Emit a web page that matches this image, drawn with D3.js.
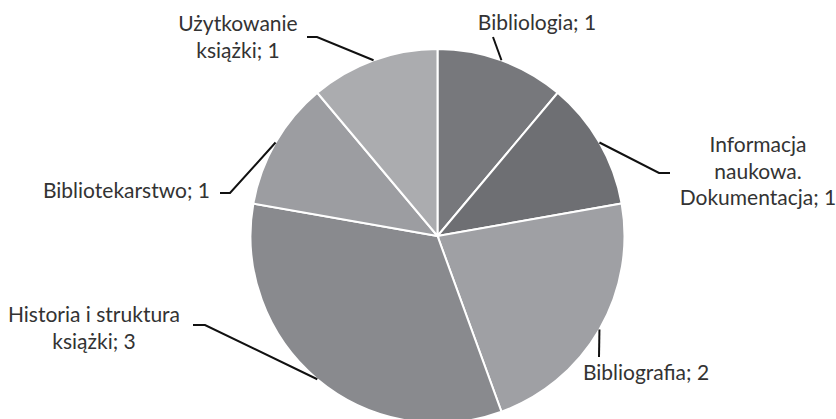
<!DOCTYPE html>
<html lang="pl">
<head>
    <meta charset="UTF-8">
    <title>Struktura tematyczna</title>
    <script src="https://d3js.org/d3.v7.min.js"></script>
    <style>
        body {
            margin: 0;
            background-color: #fff;
        }
        .label {
            font-family: Lato, "Open Sans", sans-serif;
            font-size: 21px;
            fill: #333;
        }
        .leader {
            fill: none;
            stroke: #111;
            stroke-width: 2px;
        }
    </style>
</head>
<body>
    <div id="chart"></div>

    <script>
        // data, clockwise from 12 o'clock
        const categories = [
            'Bibliologia',
            'Informacja naukowa. Dokumentacja',
            'Bibliografia',
            'Historia i struktura książki',
            'Bibliotekarstwo',
            'Użytkowanie książki'
        ];
        const values = [1, 1, 2, 3, 1, 1];
        const colors = ['#77787c', '#6e6f73', '#9fa0a4', '#898a8e', '#9c9da1', '#abacaf'];

        // how each label is broken into lines
        const labelLines = [
            ['Bibliologia; 1'],
            ['Informacja', 'naukowa.', 'Dokumentacja; 1'],
            ['Bibliografia; 2'],
            ['Historia i struktura', 'książki; 3'],
            ['Bibliotekarstwo; 1'],
            ['Użytkowanie', 'książki; 1']
        ];

        // label layout: text anchor point + leader elbow/end
        const labelLayout = [
            { x: 537, y: 30, anchor: 'middle', elbow: [493, 37], end: null },
            { x: 758, y: 152, anchor: 'middle', elbow: [659, 173], end: [670, 173] },
            { x: 646, y: 380, anchor: 'middle', elbow: [599, 357], end: null },
            { x: 94, y: 322, anchor: 'middle', elbow: [205, 325], end: [193, 325] },
            { x: 210, y: 198, anchor: 'end', elbow: [230, 193], end: [220, 193] },
            { x: 238, y: 31, anchor: 'middle', elbow: [317, 37], end: [307, 37] }
        ];

        const width = 836, height = 419;
        const cx = 437.5, cy = 236, radius = 187;
        const lineHeight = 26.5;

        const svg = d3.select('#chart').append('svg')
            .attr('width', width)
            .attr('height', height);

        const pie = d3.pie().sort(null).value(d => d)(values);
        const arc = d3.arc().innerRadius(0).outerRadius(radius);

        const g = svg.append('g').attr('transform', `translate(${cx},${cy})`);

        g.selectAll('path.slice')
            .data(pie)
            .enter()
            .append('path')
            .attr('class', 'slice')
            .attr('d', arc)
            .attr('fill', (d, i) => colors[i])
            .attr('stroke', '#fff')
            .attr('stroke-width', 2);

        // leader lines from the middle of each slice's rim
        pie.forEach((d, i) => {
            const a = (d.startAngle + d.endAngle) / 2;
            const px = cx + radius * Math.sin(a);
            const py = cy - radius * Math.cos(a);
            const lay = labelLayout[i];
            const pts = [[px, py], lay.elbow];
            if (lay.end) pts.push(lay.end);
            svg.append('path')
                .attr('class', 'leader')
                .attr('d', d3.line()(pts));
        });

        labelLines.forEach((lines, i) => {
            const lay = labelLayout[i];
            const t = svg.append('text')
                .attr('class', 'label')
                .attr('text-anchor', lay.anchor)
                .attr('x', lay.x)
                .attr('y', lay.y);
            lines.forEach((s, j) => {
                t.append('tspan')
                    .attr('x', lay.x)
                    .attr('dy', j === 0 ? 0 : lineHeight)
                    .text(s);
            });
        });
    </script>
</body>
</html>
